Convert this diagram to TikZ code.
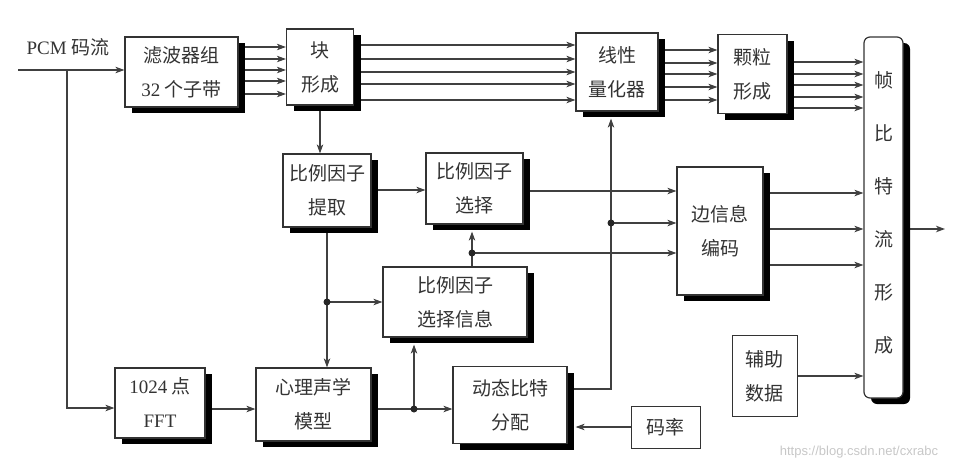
\documentclass[tikz,border=0pt]{standalone}
\usepackage{fontspec}
\setmainfont{Liberation Serif}
\newfontfamily\cjk{Noto Sans CJK SC}
\newfontfamily\wmfont{Liberation Sans}
\usetikzlibrary{arrows.meta,shadows,backgrounds}
\begin{document}
\begin{tikzpicture}[x=1pt,y=-1pt,
  box/.style={draw=black!80, line width=1.2pt, fill=white, inner sep=0pt, align=center, text=black!80, font=\cjk\fontsize{19}{34}\selectfont},
  sh/.style={drop shadow={shadow xshift=7pt,shadow yshift=-6pt,fill=black,opacity=1}},
  ln/.style={draw=black!75, line width=1.1pt},
  arr/.style={ln,-{Stealth[length=9pt,width=6.5pt,inset=2.5pt]}},
  dot/.style={circle,fill=black!85,inner sep=0pt,minimum size=7pt}]
\useasboundingbox (0,0) rectangle (964,472);

% boxes
\node[box,sh,minimum width=113pt,minimum height=70pt] (filt) at (181.5,72) {滤波器组\\{\rmfamily 32}\ 个子带};
\node[box,sh,minimum width=67pt,minimum height=76pt] (blk) at (320,67) {块\\形成};
\node[box,sh,minimum width=82pt,minimum height=78pt] (quant) at (617,72) {线性\\量化器};
\node[box,sh,minimum width=69pt,minimum height=79pt] (gran) at (752.5,74) {颗粒\\形成};
\node[draw=black!80,line width=1.2pt,fill=white,rounded corners=6pt,sh,minimum width=39pt,minimum height=361pt,inner sep=0pt] (frame) at (883.5,217.5) {};
\node[font=\cjk\fontsize{19}{53}\selectfont,align=center,text=black!80,inner sep=0pt] (ftxt) at (883.5,212.5) {帧\\比\\特\\流\\形\\成};
\node[box,sh,minimum width=88pt,minimum height=73pt] (sfext) at (327,190.5) {比例因子\\提取};
\node[box,sh,minimum width=97pt,minimum height=71pt] (sfsel) at (474.5,188.5) {比例因子\\选择};
\node[box,sh,minimum width=144pt,minimum height=70pt] (sfinfo) at (455,302) {比例因子\\选择信息};
\node[box,sh,minimum width=86pt,minimum height=128pt] (side) at (720,231) {边信息\\编码};
\node[box,minimum width=65pt,minimum height=81pt,line width=1pt] (aux) at (764.5,376) {辅助\\数据};
\node[box,sh,minimum width=90pt,minimum height=70pt] (fft) at (160,403) {{\rmfamily 1024}\ 点\\{\rmfamily FFT}};
\node[box,sh,minimum width=115pt,minimum height=73pt] (psy) at (313.5,404.5) {心理声学\\模型};
\node[box,sh,minimum width=114pt,minimum height=77pt] (dba) at (510,405) {动态比特\\分配};
\node[box,minimum width=69pt,minimum height=42pt,line width=1pt] (rate) at (665.5,427) {码率};

\node[text=black!80,font=\fontsize{19}{20}\selectfont,inner sep=0pt] (pcm) at (68,47) {PCM {\cjk 码流}};
\node[text=black!22,font=\wmfont\fontsize{13}{15}\selectfont,inner sep=0pt] (wm) at (859,452) {https://blog.csdn.net/cxrabc};

\coordinate (in) at (18,70);
\coordinate (j0) at (67,70);
\coordinate (d1) at (sfext.south |- sfinfo.west);
\coordinate (sfselB) at ([yshift=-7pt]sfsel.south);
\coordinate (d2) at (472,253);
\coordinate (quantB) at ([yshift=-7pt]quant.south);
\coordinate (c1) at (611,389);
\coordinate (d3) at (611,223);
\coordinate (d4) at (414,409);
\coordinate (sfinfoB) at ([yshift=-7pt]sfinfo.south);
\coordinate (dbaR) at ([xshift=8pt]dba.east);
\coordinate (out) at (945,229);

\begin{pgfonlayer}{background}
\draw[arr] (in) -- (filt.west |- in);
\draw[arr] (j0) |- (fft.west |- 0,408);
\foreach \y in {47,59,70,81,94} \draw[arr] (filt.east |- 0,\y) -- (blk.west |- 0,\y);
\foreach \y in {45,59,72,84,100} \draw[arr] (blk.east |- 0,\y) -- (quant.west |- 0,\y);
\foreach \y in {50,63,74,87,100} \draw[arr] (quant.east |- 0,\y) -- (gran.west |- 0,\y);
\foreach \y in {62,74,85,97,108} \draw[arr] (gran.east |- 0,\y) -- (frame.west |- 0,\y);
\draw[arr] (blk.south) -- (blk.south |- sfext.north);
\draw[arr] (sfext.east |- 0,190) -- (sfsel.west |- 0,190);
\draw[arr] (sfsel.east |- 0,191) -- (side.west |- 0,191);
\draw[arr] (sfext.south) -- (sfext.south |- psy.north);
\draw[arr] (d1) -- (sfinfo.west);
\draw[arr] (d2 |- sfinfo.north) -- (d2 |- sfselB);
\draw[arr] (d2) -- (side.west |- d2);
\draw[arr] (dba.east |- c1) -- (c1) -- (c1 |- quantB);
\draw[arr] (d3) -- (side.west |- d3);
\draw[arr] (fft.east |- 0,409) -- (psy.west |- 0,409);
\draw[arr] (psy.east |- d4) -- (dba.west |- d4);
\draw[arr] (d4) -- (d4 |- sfinfoB);
\draw[arr] (rate.west) -- (dbaR |- rate.west);
\foreach \y in {193,229,265} \draw[arr] (side.east |- 0,\y) -- (frame.west |- 0,\y);
\draw[arr] (frame.east |- out) -- (out);
\draw[arr] (aux.east) -- (frame.west |- aux.east);
\end{pgfonlayer}

\foreach \p in {d1,d2,d3,d4} \node[dot] (dot\p) at (\p) {};
\end{tikzpicture}
\end{document}
